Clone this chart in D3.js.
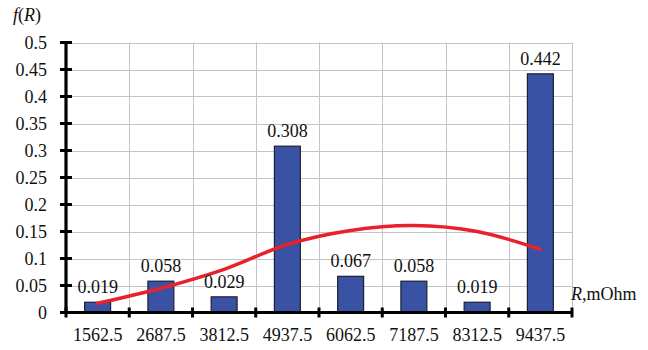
<!DOCTYPE html>
<html>
<head>
<meta charset="utf-8">
<script src="https://cdn.jsdelivr.net/npm/d3@7"></script>
<style>
  html, body { margin: 0; padding: 0; background: #fff; }
  svg { display: block; font-family: "Liberation Serif", "Times New Roman", serif; }
</style>
</head>
<body>
<svg id="chart" width="648" height="350"></svg>
<script>
// Resistance interval midpoints (mOhm)
const categories = ["1562.5", "2687.5", "3812.5", "4937.5", "6062.5", "7187.5", "8312.5", "9437.5"];
// Empirical relative frequencies per interval
const frequencies = [0.019, 0.058, 0.029, 0.308, 0.067, 0.058, 0.019, 0.442];
// Fitted theoretical density curve evaluated at the midpoints
const fitted = [0.017, 0.045, 0.080, 0.126, 0.152, 0.161, 0.150, 0.117];
// Y axis tick values
const yTicks = [0, 0.05, 0.1, 0.15, 0.2, 0.25, 0.3, 0.35, 0.4, 0.45, 0.5];

const svg = d3.select("#chart");
const plotLeft = 66, plotRight = 572, plotTop = 42.5, plotBottom = 312.5;

const x = d3.scaleBand().domain(categories).range([plotLeft, plotRight]).paddingInner(0.59).paddingOuter(0.295);
const xEdge = d3.scaleLinear().domain([0, categories.length]).range([plotLeft, plotRight]);
const y = d3.scaleLinear().domain([0, 0.5]).range([plotBottom, plotTop]);

// Gridlines
const grid = svg.append("g").attr("stroke", "#c3c3c8").attr("stroke-width", 1);
grid.selectAll("line.h").data(yTicks.slice(1)).join("line")
  .attr("x1", plotLeft).attr("x2", plotRight)
  .attr("y1", d => Math.round(y(d)) + 0.5).attr("y2", d => Math.round(y(d)) + 0.5);
grid.selectAll("line.v").data(d3.range(1, categories.length + 1)).join("line")
  .attr("x1", d => Math.round(xEdge(d)) + 0.5).attr("x2", d => Math.round(xEdge(d)) + 0.5)
  .attr("y1", plotTop).attr("y2", plotBottom);

// Bars
svg.append("g").selectAll("rect").data(frequencies).join("rect")
  .attr("x", (d, i) => x(categories[i]))
  .attr("y", d => y(d))
  .attr("width", x.bandwidth())
  .attr("height", d => y(0) - y(d))
  .attr("fill", "#3952a4")
  .attr("stroke", "#1c1f33")
  .attr("stroke-width", 1.2);

// Fitted curve
const line = d3.line()
  .x((d, i) => x(categories[i]) + x.bandwidth() / 2)
  .y(d => y(d))
  .curve(d3.curveCatmullRom.alpha(0.5));
svg.append("path").datum(fitted)
  .attr("d", line)
  .attr("fill", "none")
  .attr("stroke", "#e8212a")
  .attr("stroke-width", 3.5)
  .attr("stroke-linecap", "round");

// Value labels
svg.append("g").selectAll("text").data(frequencies).join("text")
  .attr("x", (d, i) => x(categories[i]) + x.bandwidth() / 2)
  .attr("y", d => y(d) - 9)
  .attr("text-anchor", "middle")
  .attr("font-size", 18)
  .attr("fill", "#111")
  .text(d => d3.format(".3f")(d));

// Y axis
const yAxis = d3.axisLeft(y).tickValues(yTicks).tickSize(0).tickFormat(d => String(d));
const yg = svg.append("g").attr("transform", `translate(${plotLeft},0)`).call(yAxis);
yg.select(".domain").remove();
yg.selectAll("text").attr("x", -19).attr("font-size", 18).attr("fill", "#111")
  .attr("font-family", "Liberation Serif, serif");
svg.append("line").attr("x1", plotLeft).attr("x2", plotLeft).attr("y1", plotTop - 1.5).attr("y2", plotBottom + 1.5)
  .attr("stroke", "#000").attr("stroke-width", 3.2);
svg.append("g").selectAll("line").data(yTicks).join("line")
  .attr("x1", plotLeft - 6).attr("x2", plotLeft + 6)
  .attr("y1", d => y(d)).attr("y2", d => y(d))
  .attr("stroke", "#000").attr("stroke-width", 3);

// X axis
const xAxis = d3.axisBottom(x).tickSize(0).tickPadding(0);
const xg = svg.append("g").attr("transform", `translate(0,${plotBottom})`).call(xAxis);
xg.select(".domain").remove();
xg.selectAll("text").attr("dy", null).attr("y", 28).attr("font-size", 18).attr("fill", "#111")
  .attr("font-family", "Liberation Serif, serif");
svg.append("line").attr("x1", plotLeft).attr("x2", plotRight).attr("y1", plotBottom).attr("y2", plotBottom)
  .attr("stroke", "#000").attr("stroke-width", 3.2);
svg.append("g").selectAll("line").data(d3.range(0, categories.length + 1)).join("line")
  .attr("x1", d => xEdge(d)).attr("x2", d => xEdge(d))
  .attr("y1", plotBottom - 5).attr("y2", plotBottom + 5)
  .attr("stroke", "#000").attr("stroke-width", 3);

// Axis titles
const yt = svg.append("text").attr("x", 13).attr("y", 21).attr("font-size", 18).attr("fill", "#111");
yt.append("tspan").attr("font-style", "italic").text("f");
yt.append("tspan").text("(");
yt.append("tspan").attr("font-style", "italic").text("R");
yt.append("tspan").text(")");

const xt = svg.append("text").attr("x", 571).attr("y", 300).attr("font-size", 18).attr("fill", "#111");
xt.append("tspan").attr("font-style", "italic").text("R");
xt.append("tspan").text(",mOhm");
</script>
</body>
</html>
